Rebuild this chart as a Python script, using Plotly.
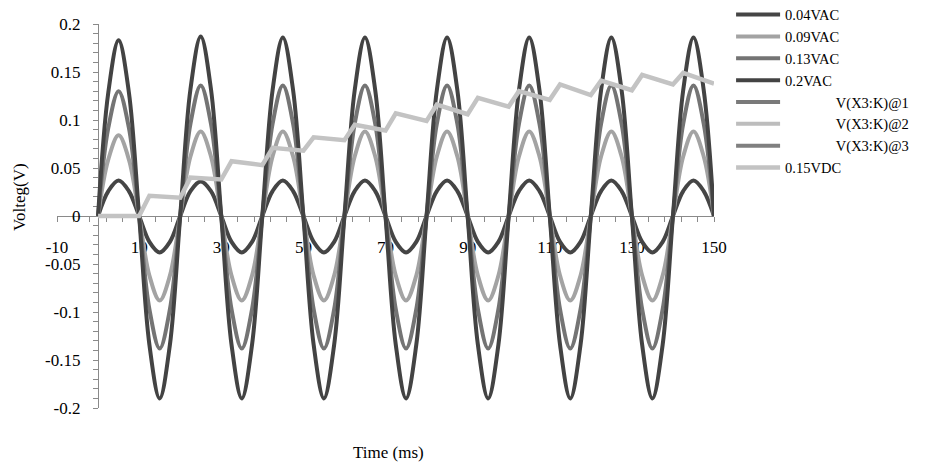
import plotly.graph_objects as go

# ---------------- data ----------------
t_ac = [i * 2.5 for i in range(61)]  # time in ms, 0 .. 150

v_004 = [0, 0.026, 0.037, 0.026, 0, -0.027, -0.038, -0.027,
         0, 0.026, 0.036, 0.026, 0, -0.027, -0.038, -0.027,
         0, 0.026, 0.037, 0.026, 0, -0.027, -0.038, -0.027,
         0, 0.026, 0.037, 0.026, 0, -0.027, -0.038, -0.027,
         0, 0.026, 0.037, 0.026, 0, -0.027, -0.038, -0.027,
         0, 0.026, 0.037, 0.026, 0, -0.027, -0.038, -0.027,
         0, 0.026, 0.037, 0.026, 0, -0.027, -0.038, -0.027,
         0, 0.026, 0.037, 0.026, 0]

v_009 = [0, 0.059, 0.084, 0.059, 0, -0.062, -0.088, -0.062,
         0, 0.062, 0.088, 0.062, 0, -0.062, -0.088, -0.062,
         0, 0.062, 0.088, 0.062, 0, -0.062, -0.088, -0.062,
         0, 0.062, 0.088, 0.062, 0, -0.062, -0.088, -0.062,
         0, 0.062, 0.088, 0.062, 0, -0.062, -0.088, -0.062,
         0, 0.062, 0.088, 0.062, 0, -0.062, -0.088, -0.062,
         0, 0.062, 0.088, 0.062, 0, -0.062, -0.088, -0.062,
         0, 0.062, 0.088, 0.062, 0]

v_013 = [0, 0.092, 0.130, 0.092, 0, -0.097, -0.138, -0.097,
         0, 0.096, 0.136, 0.096, 0, -0.097, -0.138, -0.097,
         0, 0.096, 0.136, 0.096, 0, -0.097, -0.138, -0.097,
         0, 0.096, 0.136, 0.096, 0, -0.097, -0.138, -0.097,
         0, 0.096, 0.136, 0.096, 0, -0.097, -0.138, -0.097,
         0, 0.096, 0.136, 0.096, 0, -0.097, -0.138, -0.097,
         0, 0.096, 0.136, 0.096, 0, -0.097, -0.138, -0.097,
         0, 0.096, 0.136, 0.096, 0]

v_020 = [0, 0.129, 0.183, 0.129, 0, -0.134, -0.190, -0.134,
         0, 0.132, 0.187, 0.132, 0, -0.134, -0.190, -0.134,
         0, 0.131, 0.186, 0.131, 0, -0.134, -0.190, -0.134,
         0, 0.131, 0.186, 0.131, 0, -0.134, -0.190, -0.134,
         0, 0.131, 0.186, 0.131, 0, -0.134, -0.190, -0.134,
         0, 0.131, 0.186, 0.131, 0, -0.134, -0.190, -0.134,
         0, 0.131, 0.186, 0.131, 0, -0.134, -0.190, -0.134,
         0, 0.131, 0.186, 0.131, 0]

t_dc = [0, 10, 12.5, 20, 22.5, 30, 32.5, 40, 42.5, 50, 52.5, 60, 62.5, 70, 72.5,
        80, 82.5, 90, 92.5, 100, 102.5, 110, 112.5, 120, 122.5, 130, 132.5,
        140, 142.5, 150]
v_dc = [0, 0, 0.021, 0.019, 0.040, 0.038, 0.057, 0.053, 0.071, 0.068, 0.082,
        0.079, 0.095, 0.089, 0.107, 0.099, 0.116, 0.106, 0.123, 0.114, 0.130,
        0.121, 0.137, 0.126, 0.141, 0.131, 0.147, 0.137, 0.149, 0.138]

names = ["0.04VAC", "0.09VAC", "0.13VAC", "0.2VAC",
         "V(X3:K)@1", "V(X3:K)@2", "V(X3:K)@3", "0.15VDC"]

x_tickvals = [-10, 10, 30, 50, 70, 90, 110, 130, 150]
x_ticktext = ["-10", "10", "30", "50", "70", "90", "110", "130", "150"]
y_tickvals = [0.2, 0.15, 0.1, 0.05, 0, -0.05, -0.1, -0.15, -0.2]
y_ticktext = ["0.2", "0.15", "0.1", "0.05", "0", "-0.05", "-0.1", "-0.15", "-0.2"]

# ---------------- styling ----------------
FONT = "Liberation Serif"
colors = {
    "0.04VAC": "#454545",
    "0.09VAC": "#a3a3a3",
    "0.13VAC": "#747474",
    "0.2VAC": "#434343",
    "V(X3:K)@1": "#7a7a7a",
    "V(X3:K)@2": "#bdbdbd",
    "V(X3:K)@3": "#808080",
    "0.15VDC": "#c3c3c3",
}
indent = "\u00a0" * 14

fig = go.Figure()
ac = {"0.04VAC": v_004, "0.09VAC": v_009, "0.13VAC": v_013, "0.2VAC": v_020}
for n in names[:4]:
    fig.add_trace(go.Scatter(x=t_ac, y=ac[n], mode="lines", name=n,
                             line=dict(color=colors[n], width=4, shape="spline")))
# legend-only entries (no visible marks in the reference)
for n in names[4:7]:
    fig.add_trace(go.Scatter(x=[None], y=[None], mode="lines", name=indent + n,
                             line=dict(color=colors[n], width=4)))
fig.add_trace(go.Scatter(x=t_dc, y=v_dc, mode="lines", name=names[7],
                         line=dict(color=colors[names[7]], width=4.5)))

x_min, x_max = -10, 150
y_pos = (0 - x_min) / (x_max - x_min)

fig.update_layout(
    width=929, height=467,
    margin=dict(l=57, r=215, t=24, b=59, autoexpand=False),
    paper_bgcolor="white", plot_bgcolor="white",
    font=dict(family=FONT, size=17, color="black"),
    showlegend=True,
    legend=dict(x=1.026, xanchor="left", y=1.066, yanchor="top",
                font=dict(family=FONT, size=14.5, color="black"),
                bgcolor="rgba(0,0,0,0)", itemwidth=44),
    xaxis=dict(range=[x_min, x_max], anchor="free", position=0.5,
               showline=True, linecolor="#8a8a8a", linewidth=1.3,
               showgrid=False, zeroline=False,
               tickmode="array", tickvals=x_tickvals, ticktext=x_ticktext,
               ticks="outside", ticklen=5, tickcolor="#8a8a8a", tickwidth=1.3,
               ticklabelstandoff=10,
               minor=dict(tickmode="linear", tick0=-10, dtick=4, ticks="outside",
                          ticklen=5, tickcolor="#8a8a8a", tickwidth=1.3),
               tickfont=dict(family=FONT, size=17, color="black"),
               layer="below traces"),
    yaxis=dict(range=[-0.2, 0.2], anchor="free", position=y_pos,
               showline=True, linecolor="#8a8a8a", linewidth=1.3,
               showgrid=False, zeroline=False,
               tickmode="array", tickvals=y_tickvals, ticktext=y_ticktext,
               ticks="outside", ticklen=5, tickcolor="#8a8a8a", tickwidth=1.3,
               ticklabelstandoff=9,
               minor=dict(tickmode="linear", tick0=0, dtick=0.01, ticks="outside",
                          ticklen=5, tickcolor="#8a8a8a", tickwidth=1.3),
               tickfont=dict(family=FONT, size=17, color="black"),
               layer="below traces"),
    annotations=[
        dict(text="Volteg(V)", xref="paper", yref="paper", x=-0.058, y=0.549,
             textangle=-90, showarrow=False, xanchor="center", yanchor="middle",
             font=dict(family=FONT, size=17, color="black")),
        dict(text="Time (ms)", xref="paper", yref="paper", x=0.504, y=-0.115,
             showarrow=False, xanchor="center", yanchor="middle",
             font=dict(family=FONT, size=17, color="black")),
    ],
)

fig.write_html("out.html", config={"displayModeBar": False},
               post_script="document.body.style.margin='0';document.body.style.overflow='hidden';")
